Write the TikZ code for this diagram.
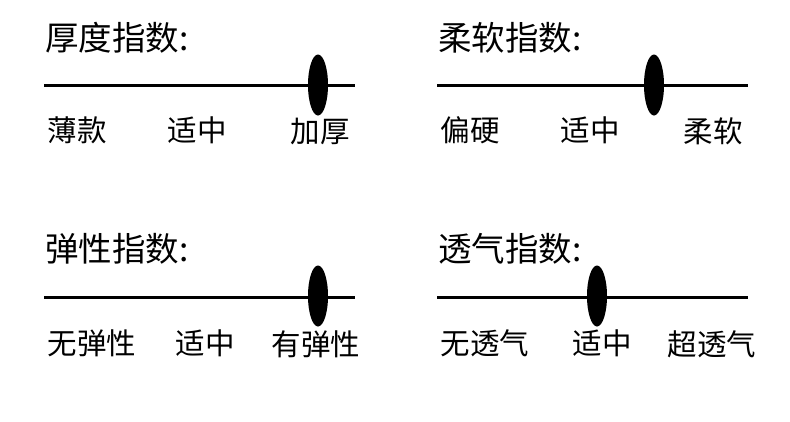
\documentclass[tikz,border=0pt]{standalone}
\usepackage{fontspec}
\setmainfont{Noto Sans CJK SC}
\begin{document}
\begin{tikzpicture}[x=1pt,y=-1pt,
  title/.style={anchor=west,inner sep=0pt,font=\fontsize{33.5}{33.5}\selectfont},
  lab/.style={inner sep=0pt,font=\fontsize{29.5}{29.5}\selectfont},
  bar/.style={line width=3pt}]
\useasboundingbox[fill=white] (0,0) rectangle (790,421);
% top-left
\node[title] (t1) at (45,38) {厚度指数:};
\coordinate (a1) at (44,85); \coordinate (b1) at (355,85);
\draw[bar] (a1) -- (b1);
\fill (318,85) ellipse [x radius=10, y radius=30.5];
\node[lab] (l11) at (77,130) {薄款};
\node[lab] (l12) at (197,130) {适中};
\node[lab] (l13) at (320,131) {加厚};
% top-right
\node[title] (t2) at (438,38) {柔软指数:};
\coordinate (a2) at (437,85); \coordinate (b2) at (748,85);
\draw[bar] (a2) -- (b2);
\fill (654,85) ellipse [x radius=10, y radius=30.5];
\node[lab] (l21) at (470,130) {偏硬};
\node[lab] (l22) at (590,130) {适中};
\node[lab] (l23) at (713,131) {柔软};
% bottom-left
\node[title] (t3) at (45,249) {弹性指数:};
\coordinate (a3) at (44,297); \coordinate (b3) at (355,297);
\draw[bar] (a3) -- (b3);
\fill (318,296) ellipse [x radius=10, y radius=30.5];
\node[lab] (l31) at (92,343) {无弹性};
\node[lab] (l32) at (205,343) {适中};
\node[lab] (l33) at (316,344) {有弹性};
% bottom-right
\node[title] (t4) at (438,249) {透气指数:};
\coordinate (a4) at (437,297); \coordinate (b4) at (748,297);
\draw[bar] (a4) -- (b4);
\fill (597,296) ellipse [x radius=10, y radius=30.5];
\node[lab] (l41) at (485,343) {无透气};
\node[lab] (l42) at (602,343) {适中};
\node[lab] (l43) at (712,344) {超透气};
\end{tikzpicture}
\end{document}
